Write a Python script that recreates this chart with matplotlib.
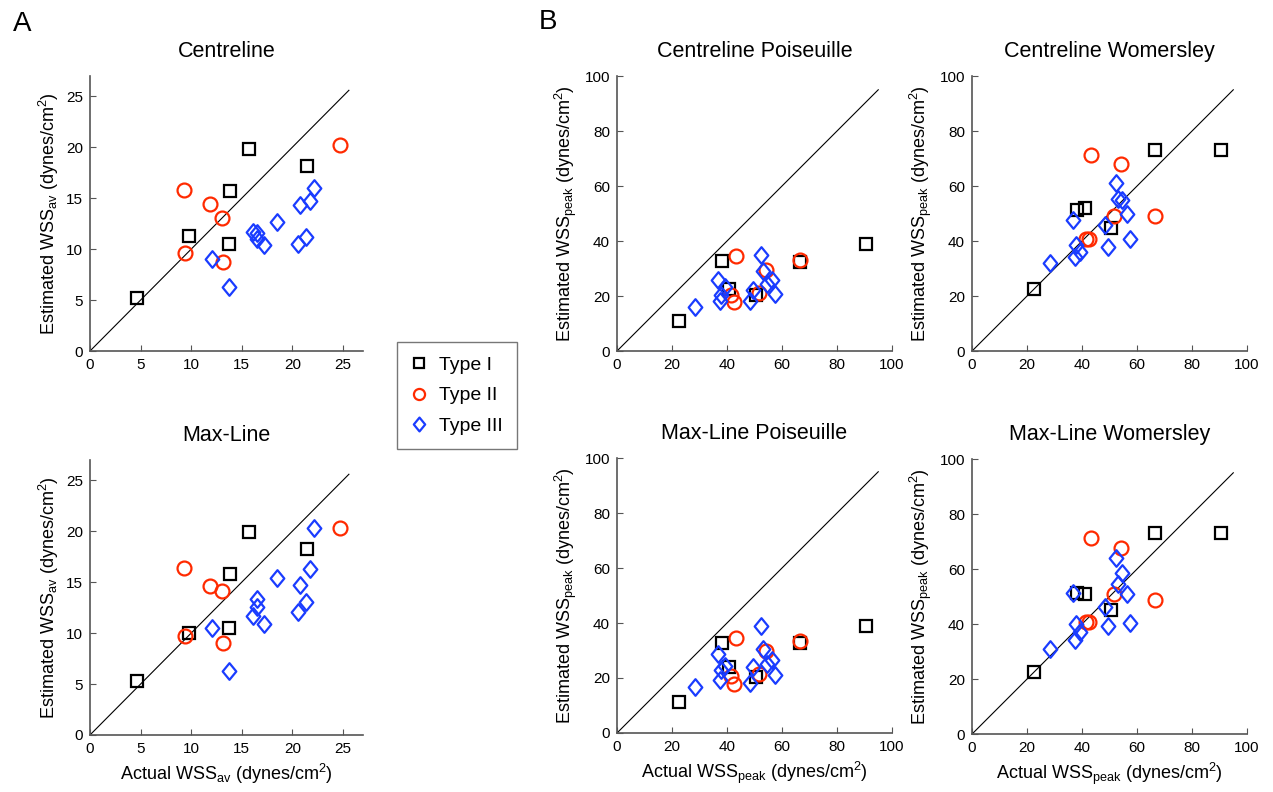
import numpy as np
import matplotlib
matplotlib.use('Agg')
import matplotlib.pyplot as plt
from matplotlib.lines import Line2D
from matplotlib.path import Path

plt.rcParams['font.family'] = ['Liberation Sans', 'DejaVu Sans']
plt.rcParams['mathtext.fontset'] = 'custom'
plt.rcParams['mathtext.rm'] = 'Liberation Sans'
plt.rcParams['mathtext.it'] = 'Liberation Sans:italic'

# ---- panel A data (average WSS) ----
av_x_t1 = [4.6, 9.8, 13.8, 13.7, 15.7, 21.5]
av_x_t2 = [9.25, 9.35, 11.9, 13.1, 13.15, 24.7]
av_x_t3 = [12.1, 13.7, 16.1, 16.55, 16.5, 17.2, 18.5, 20.6, 20.8, 21.35, 21.8, 22.1]

cl_av_t1 = [5.2, 11.3, 15.7, 10.5, 19.8, 18.2]
cl_av_t2 = [15.8, 9.6, 14.4, 13.1, 8.7, 20.2]
cl_av_t3 = [9.0, 6.3, 11.7, 11.6, 11.0, 10.45, 12.7, 10.5, 14.3, 11.2, 14.75, 16.0]

ml_av_t1 = [5.3, 10.0, 15.8, 10.55, 19.9, 18.3]
ml_av_t2 = [16.35, 9.75, 14.65, 14.1, 9.0, 20.3]
ml_av_t3 = [10.5, 6.3, 11.7, 13.4, 12.6, 10.9, 15.4, 12.1, 14.75, 13.1, 16.3, 20.3]

# ---- panel B data (peak WSS) ----
pk_x_t1 = [22.5, 38.3, 40.9, 50.4, 66.6, 90.7]
pk_x_t2 = [41.4, 42.5, 43.2, 51.5, 54.3, 66.5]
pk_x_t3 = [28.3, 36.7, 37.3, 37.9, 39.4, 48.3, 49.5, 52.5, 53.0, 54.7, 56.4, 57.4]

clp_t1 = [10.9, 32.6, 22.4, 20.5, 32.3, 38.8]
clp_t2 = [20.4, 17.7, 34.4, 21.0, 29.3, 33.2]
clp_t3 = [16.1, 25.7, 18.2, 20.4, 23.3, 18.2, 22.2, 35.0, 29.1, 24.5, 25.7, 20.6]

clw_t1 = [22.5, 51.2, 51.9, 44.8, 73.0, 73.1]
clw_t2 = [40.8, 40.8, 71.3, 49.2, 68.1, 49.0]
clw_t3 = [32.0, 47.5, 34.2, 38.7, 36.0, 45.9, 37.9, 61.0, 55.3, 55.0, 49.9, 40.7]

mlp_t1 = [11.1, 32.9, 24.0, 20.2, 32.6, 38.9]
mlp_t2 = [20.9, 17.8, 34.6, 21.5, 29.9, 33.4]
mlp_t3 = [16.9, 28.7, 19.1, 22.9, 24.5, 18.0, 24.1, 38.9, 30.4, 25.2, 26.4, 21.2]

mlw_t1 = [22.5, 51.3, 50.9, 45.0, 73.0, 73.1]
mlw_t2 = [40.7, 40.7, 71.3, 51.0, 67.6, 48.8]
mlw_t3 = [31.0, 51.3, 34.3, 40.0, 37.0, 46.2, 39.2, 63.9, 54.6, 58.7, 50.9, 40.5]

type_names = ['Type I', 'Type II', 'Type III']

BLACK, RED, BLUE = 'black', '#ff2a00', '#1a3cff'
mk = dict(linestyle='none', markerfacecolor='none', markeredgewidth=1.6)

# MATLAB style diamond, slightly taller than wide
diamond = Path([(0, 1), (0.82, 0), (0, -1), (-0.82, 0), (0, 1)],
               [Path.MOVETO, Path.LINETO, Path.LINETO, Path.LINETO, Path.CLOSEPOLY])


def draw(ax, xs, ys, lim, line_end, ticks, title, ylab, xlab=None):
    ax.plot([0, line_end], [0, line_end], color='black', lw=0.8)
    ax.plot(xs[0], ys[0], marker='s', markersize=8.5, color=BLACK, **mk)
    ax.plot(xs[1], ys[1], marker='o', markersize=10, color=RED, **mk)
    ax.plot(xs[2], ys[2], marker=diamond, markersize=12, color=BLUE, **mk)
    ax.set_xlim(0, lim)
    ax.set_ylim(0, lim)
    ax.set_xticks(ticks)
    ax.set_yticks(ticks)
    for s in ['top', 'right']:
        ax.spines[s].set_visible(False)
    for s in ['left', 'bottom']:
        ax.spines[s].set_color('#555555')
        ax.spines[s].set_linewidth(1.2)
    ax.tick_params(direction='in', length=4, color='#555555', labelsize=11, pad=5)
    ax.set_title(title, fontsize=15.5, pad=14)
    ax.set_ylabel(ylab, fontsize=13)
    if xlab:
        ax.set_xlabel(xlab, fontsize=13)


fig = plt.figure(figsize=(12.73, 7.92), dpi=100)

ylab_av = r'Estimated WSS$_{\mathrm{av}}$ (dynes/cm$^2$)'
xlab_av = r'Actual WSS$_{\mathrm{av}}$ (dynes/cm$^2$)'
ylab_pk = r'Estimated WSS$_{\mathrm{peak}}$ (dynes/cm$^2$)'
xlab_pk = r'Actual WSS$_{\mathrm{peak}}$ (dynes/cm$^2$)'

ticks_a = [0, 5, 10, 15, 20, 25]
ticks_b = [0, 20, 40, 60, 80, 100]

ax = fig.add_axes([0.0707, 0.5568, 0.2145, 0.3472])
draw(ax, [av_x_t1, av_x_t2, av_x_t3], [cl_av_t1, cl_av_t2, cl_av_t3],
     27, 25.6, ticks_a, 'Centreline', ylab_av)

ax = fig.add_axes([0.0707, 0.0720, 0.2145, 0.3472])
draw(ax, [av_x_t1, av_x_t2, av_x_t3], [ml_av_t1, ml_av_t2, ml_av_t3],
     27, 25.6, ticks_a, 'Max-Line', ylab_av, xlab_av)

ax = fig.add_axes([0.4847, 0.5568, 0.2160, 0.3472])
draw(ax, [pk_x_t1, pk_x_t2, pk_x_t3], [clp_t1, clp_t2, clp_t3],
     100, 95, ticks_b, 'Centreline Poiseuille', ylab_pk)

ax = fig.add_axes([0.7636, 0.5568, 0.2160, 0.3472])
draw(ax, [pk_x_t1, pk_x_t2, pk_x_t3], [clw_t1, clw_t2, clw_t3],
     100, 95, ticks_b, 'Centreline Womersley', ylab_pk)

ax = fig.add_axes([0.4847, 0.0745, 0.2160, 0.3472])
draw(ax, [pk_x_t1, pk_x_t2, pk_x_t3], [mlp_t1, mlp_t2, mlp_t3],
     100, 95, ticks_b, 'Max-Line Poiseuille', ylab_pk, xlab_pk)

ax = fig.add_axes([0.7636, 0.0732, 0.2160, 0.3472])
draw(ax, [pk_x_t1, pk_x_t2, pk_x_t3], [mlw_t1, mlw_t2, mlw_t3],
     100, 95, ticks_b, 'Max-Line Womersley', ylab_pk, xlab_pk)

handles = [
    Line2D([], [], marker='s', markersize=7, color=BLACK, **mk),
    Line2D([], [], marker='o', markersize=8, color=RED, **mk),
    Line2D([], [], marker=diamond, markersize=10, color=BLUE, **mk),
]
leg = fig.legend(handles, type_names, loc='upper left',
                 bbox_to_anchor=(397 / 1273, 1 - 342 / 792), borderaxespad=0,
                 fontsize=14, frameon=True, fancybox=False,
                 edgecolor='#555555', handlelength=0.8, handletextpad=0.6,
                 borderpad=0.75, labelspacing=0.65)
leg.get_frame().set_linewidth(1.0)

fig.text(22 / 1273, 1 - 24 / 792, 'A', fontsize=20, ha='center', va='center')
fig.text(548 / 1273, 1 - 22 / 792, 'B', fontsize=20, ha='center', va='center')

fig.savefig('out.png', dpi=100)
